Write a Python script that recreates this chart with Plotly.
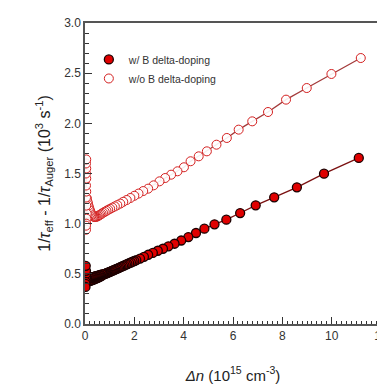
import plotly.graph_objects as go

# w/ B delta-doping (filled)
x_with = [11.10, 9.69, 8.59, 7.67, 6.92, 6.29, 5.73, 5.25, 4.84, 4.50, 4.19, 3.90, 3.63, 3.38, 3.16,
          2.95, 2.75, 2.56, 2.39, 2.23,
          2.08, 2.00, 1.93, 1.86, 1.79, 1.72, 1.66, 1.60, 1.54, 1.48, 1.43, 1.38, 1.33, 1.28, 1.23,
          1.19, 1.15, 1.11, 1.07, 1.03, 0.99, 0.95, 0.92, 0.89, 0.86, 0.83, 0.80, 0.77, 0.74, 0.71,
          0.68, 0.66, 0.63, 0.61, 0.59, 0.57, 0.55, 0.53, 0.51, 0.49, 0.47, 0.45, 0.43, 0.41, 0.39,
          0.37, 0.35, 0.33, 0.31, 0.29, 0.27, 0.25, 0.23, 0.21, 0.19, 0.17, 0.15, 0.13, 0.11, 0.09,
          0.08, 0.07, 0.06, 0.05, 0.04, 0.04, 0.03, 0.03, 0.02, 0.02]
y_with = [1.655, 1.498, 1.362, 1.263, 1.183, 1.106, 1.040, 0.993, 0.950, 0.907, 0.866, 0.832, 0.800, 0.774, 0.750,
          0.730, 0.708, 0.690, 0.670, 0.652,
          0.636, 0.628, 0.621, 0.613, 0.606, 0.598, 0.592, 0.585, 0.578, 0.571, 0.566, 0.560, 0.555, 0.549, 0.544,
          0.540, 0.535, 0.531, 0.527, 0.522, 0.518, 0.514, 0.511, 0.508, 0.505, 0.502, 0.499, 0.496, 0.493, 0.490,
          0.495, 0.478, 0.490, 0.472, 0.486, 0.468, 0.484, 0.462, 0.480, 0.458, 0.478, 0.454, 0.476, 0.450, 0.472,
          0.446, 0.470, 0.442, 0.468, 0.438, 0.466, 0.434, 0.462, 0.430, 0.458, 0.428, 0.455, 0.425, 0.450, 0.428,
          0.440, 0.445, 0.450, 0.470, 0.500, 0.530, 0.580, 0.420, 0.400, 0.370]

# w/o B delta-doping (open)
x_without = [11.18, 9.99, 8.99, 8.15, 7.42, 6.78, 6.23, 5.75, 5.33, 4.94, 4.61, 4.28, 4.01, 3.75, 3.49,
             3.25, 3.02, 2.78, 2.56, 2.36, 2.17, 2.00, 1.84, 1.69, 1.55, 1.43, 1.31, 1.21, 1.11, 1.02,
             0.94, 0.87, 0.80, 0.73, 0.67, 0.62, 0.57, 0.52, 0.48, 0.44, 0.40, 0.37, 0.34, 0.31, 0.28,
             0.26, 0.24, 0.22, 0.20, 0.18, 0.16, 0.14, 0.12, 0.10, 0.08, 0.07, 0.06, 0.05, 0.04, 0.05,
             0.04, 0.05, 0.04, 0.05, 0.04, 0.05, 0.04, 0.05, 0.04]
y_without = [2.651, 2.492, 2.352, 2.236, 2.113, 2.020, 1.937, 1.854, 1.787, 1.721, 1.671, 1.622, 1.562, 1.522, 1.488,
             1.455, 1.422, 1.382, 1.349, 1.325, 1.300, 1.278, 1.256, 1.236, 1.218, 1.200, 1.185, 1.172, 1.160, 1.148,
             1.138, 1.128, 1.118, 1.108, 1.098, 1.090, 1.082, 1.075, 1.070, 1.067, 1.066, 1.068, 1.072, 1.078, 1.086,
             1.095, 1.105, 1.118, 1.130, 1.145, 1.160, 1.180, 1.200, 1.220, 1.250, 1.100, 1.050, 1.000, 0.940,
             1.180, 1.260, 1.320, 1.380, 1.450, 1.500, 1.550, 1.600, 1.640, 0.980]

x_ticks = [0, 2, 4, 6, 8, 10, 12]
y_ticks = [0.0, 0.5, 1.0, 1.5, 2.0, 2.5, 3.0]
y_tick_labels = ["0.0", "0.5", "1.0", "1.5", "2.0", "2.5", "3.0"]

fig = go.Figure()

fig.add_trace(go.Scatter(x=x_without, y=y_without, mode="lines", showlegend=False,
                         line=dict(color="#a33a3a", width=1.3), hoverinfo="skip"))
fig.add_trace(go.Scatter(x=x_with, y=y_with, mode="lines", showlegend=False,
                         line=dict(color="#7a1010", width=1.3), hoverinfo="skip"))
fig.add_trace(go.Scatter(x=x_with, y=y_with, mode="markers", name="w/ B delta-doping",
                         marker=dict(symbol="circle", size=9, color="#e00000",
                                     line=dict(color="#1a0000", width=1.3))))
fig.add_trace(go.Scatter(x=x_without, y=y_without, mode="markers", name="w/o B delta-doping",
                         marker=dict(symbol="circle", size=9, color="rgba(255,255,255,0.9)",
                                     line=dict(color="#d42020", width=1))))

font_family = "Liberation Sans, Arial, sans-serif"

fig.update_layout(
    width=385, height=390,
    margin=dict(l=77, r=5, t=15, b=74),
    paper_bgcolor="white", plot_bgcolor="white",
    font=dict(family=font_family, color="#333333", size=12),
    legend=dict(x=0.013, y=0.927, xanchor="left", yanchor="top",
                bgcolor="rgba(0,0,0,0)", font=dict(size=10.5, color="#333333"),
                itemwidth=30, tracegroupgap=0),
    xaxis=dict(range=[0, 12], tickvals=x_ticks, ticks="inside", ticklen=7, tickwidth=1.2,
               tickcolor="#333333", showline=True, linecolor="#555555", linewidth=1.5,
               mirror=True, showgrid=False, zeroline=False,
               minor=dict(dtick=0.2, ticks="inside", ticklen=3, tickcolor="#333333", showgrid=False),
               title=dict(text="<i>Δn</i> (10<sup>15</sup> cm<sup>-3</sup>)",
                          font=dict(size=15, color="#222222"), standoff=28),
               tickfont=dict(size=12, color="#333333")),
    yaxis=dict(range=[0, 3], tickvals=y_ticks, ticktext=y_tick_labels,
               ticks="inside", ticklen=7, tickwidth=1.2,
               tickcolor="#333333", showline=True, linecolor="#555555", linewidth=1.5,
               mirror=True, showgrid=False, zeroline=False,
               minor=dict(dtick=0.1, ticks="inside", ticklen=4, tickcolor="#333333", showgrid=False),
               title=dict(text="1/<i>τ</i><sub>eff</sub> - 1/<i>τ</i><sub>Auger</sub> (10<sup>3</sup> s<sup>-1</sup>)",
                          font=dict(size=16, color="#222222"), standoff=10),
               tickfont=dict(size=12, color="#333333")),
)

fig.write_html("out.html")
